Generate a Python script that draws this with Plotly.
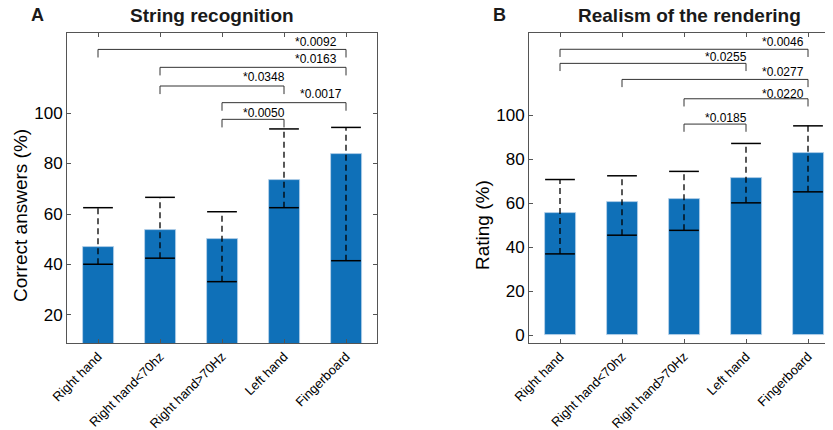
import plotly.graph_objects as go

W, H = 833, 430
OFF = 8  # page body margin that offsets the figure in the browser

categories = ["Right hand", "Right hand<70hz", "Right hand>70Hz", "Left hand", "Fingerboard"]

# Panel A: String recognition (correct answers, %)
a_mean = [46.8, 53.5, 50.2, 73.5, 83.6]
a_lower = [40.1, 42.5, 33.2, 62.5, 41.5]
a_upper = [62.5, 66.6, 60.9, 93.7, 94.3]
a_br_left = [0, 1, 1, 2, 2]
a_br_right = [4, 4, 3, 4, 3]
a_br_level = [125.2, 118.1, 110.7, 104.1, 97.5]
a_br_label = ["*0.0092", "*0.0163", "*0.0348", "*0.0017", "*0.0050"]
a_label_x = [3.52, 3.52, 2.67, 3.59, 2.67]
a_label_y = [128.2, 121.3, 114.4, 107.4, 100.1]

# Panel B: Realism of the rendering (rating, %)
b_mean = [55.3, 60.5, 61.8, 71.5, 82.6]
b_lower = [36.9, 45.4, 47.6, 60.1, 65.1]
b_upper = [70.7, 72.4, 74.4, 87.1, 95.1]
b_br_left = [0, 0, 1, 2, 2]
b_br_right = [4, 3, 4, 4, 3]
b_br_level = [129.9, 123.5, 116.2, 107.4, 95.9]
b_br_label = ["*0.0046", "*0.0255", "*0.0277", "*0.0220", "*0.0185"]
b_label_x = [3.60, 2.67, 3.60, 3.60, 2.67]
b_label_y = [133.4, 126.3, 119.7, 109.4, 98.5]

FONT = "Liberation Sans, Arial, Helvetica, sans-serif"
BAR = "#0f70b8"
AX = "#555555"


def px_x(p):
    return (p - OFF) / W


def px_y(p):
    return 1 - (p - OFF) / H


fig = go.Figure()


def add_panel(xa, ya, mean, lower, upper, bl, br, lev, lab, lx, ly, drop):
    xs = list(range(len(mean)))
    fig.add_trace(go.Bar(x=xs, y=mean, width=0.5, marker=dict(color=BAR, line=dict(color="#b9d2ea", width=0.8)),
                         xaxis=xa, yaxis=ya, showlegend=False, hoverinfo="skip"))
    vx, vy = [], []
    for i in xs:
        vx += [i, i, None]
        vy += [lower[i], upper[i], None]
    fig.add_trace(go.Scatter(x=vx, y=vy, mode="lines", line=dict(color="black", width=1.3, dash="6px,4px"),
                             xaxis=xa, yaxis=ya, showlegend=False, hoverinfo="skip"))
    cx, cy = [], []
    for i in xs:
        for v in (lower[i], upper[i]):
            cx += [i - 0.24, i + 0.24, None]
            cy += [v, v, None]
    fig.add_trace(go.Scatter(x=cx, y=cy, mode="lines", line=dict(color="black", width=1.5),
                             xaxis=xa, yaxis=ya, showlegend=False, hoverinfo="skip"))
    sx, sy = [], []
    for l, r, y in zip(bl, br, lev):
        sx += [l, l, r, r, None]
        sy += [y - drop, y, y, y - drop, None]
    fig.add_trace(go.Scatter(x=sx, y=sy, mode="lines", line=dict(color="#333333", width=1),
                             xaxis=xa, yaxis=ya, showlegend=False, hoverinfo="skip"))
    for t, x, y in zip(lab, lx, ly):
        fig.add_annotation(x=x, y=y, xref=xa, yref=ya, text=t, showarrow=False,
                           font=dict(family=FONT, size=12, color="black"), xanchor="center", yanchor="middle")


add_panel("x", "y", a_mean, a_lower, a_upper, a_br_left, a_br_right, a_br_level, a_br_label, a_label_x, a_label_y, 3.2)
add_panel("x2", "y2", b_mean, b_lower, b_upper, b_br_left, b_br_right, b_br_level, b_br_label, b_label_x, b_label_y, 3.5)

ydom = [px_y(343), px_y(33)]
common_x = dict(tickmode="array", tickvals=list(range(5)), ticktext=categories, tickangle=-45,
                showline=True, linecolor=AX, linewidth=1, ticks="inside", ticklen=4, tickcolor=AX,
                showgrid=False, zeroline=False, tickfont=dict(family=FONT, size=13, color="black"),
                mirror="ticks", fixedrange=True, automargin=False, range=[-0.5, 4.5])
common_y = dict(showline=True, linecolor=AX, linewidth=1, ticks="inside", ticklen=4, tickcolor=AX,
                showgrid=False, zeroline=False, tickfont=dict(family=FONT, size=17, color="black"),
                fixedrange=True, tickmode="array", automargin=False, domain=ydom)

fig.update_layout(
    width=W, height=H, margin=dict(l=0, r=0, t=0, b=0, autoexpand=False),
    paper_bgcolor="white", plot_bgcolor="white", bargap=0,
    xaxis=dict(domain=[px_x(67), px_x(377)], anchor="y", **common_x),
    yaxis=dict(range=[8.9, 131.7], anchor="x", tickvals=[20, 40, 60, 80, 100], mirror="ticks", **common_y),
    xaxis2=dict(domain=[px_x(529), px_x(839)], anchor="y2", **common_x),
    yaxis2=dict(range=[-3.6, 137.3], anchor="x2", tickvals=[0, 20, 40, 60, 80, 100], mirror=False, **common_y),
)

txt = [
    ("A", 37, 15, 18, True, 0),
    ("B", 499, 15, 18, True, 0),
    ("String recognition", 212, 15, 19, True, 0),
    ("Realism of the rendering", 689, 15, 19, True, 0),
    ("Correct answers (%)", 20, 216, 19, False, -90),
    ("Rating (%)", 482, 225, 19, False, -90),
]
for t, px, py, sz, bold, ang in txt:
    fig.add_annotation(x=px_x(px), y=px_y(py), xref="paper", yref="paper", showarrow=False,
                       text=f"<b>{t}</b>" if bold else t, textangle=ang,
                       font=dict(family=FONT, size=sz, color="#1a1a1a" if bold else "black"),
                       xanchor="center", yanchor="middle")

fig.write_html("out.html")
